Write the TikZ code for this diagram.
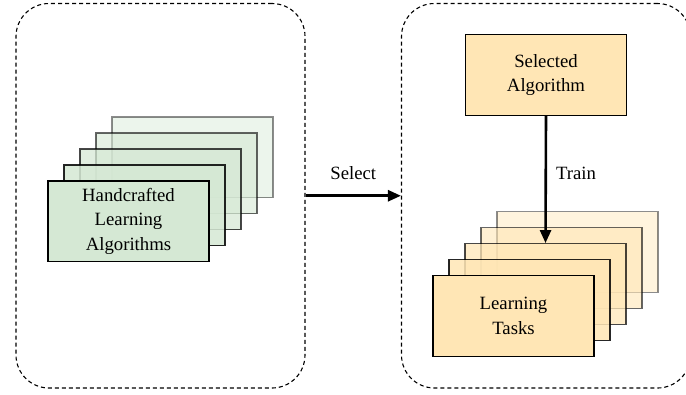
\documentclass[tikz,border=0pt]{standalone}
\usepackage{fontspec}
\setmainfont{Liberation Serif}
\usetikzlibrary{arrows.meta,calc}
\definecolor{cardgreen}{HTML}{D5E8D4}
\definecolor{cardorange}{HTML}{FFE6B5}
\tikzset{
  panel/.style={draw=black, line width=1.1bp, dash pattern=on 4bp off 3bp,
    rounded corners=33bp, minimum width=289bp, minimum height=384.5bp, inner sep=0pt},
  card/.style={draw=black, line width=1.4bp, minimum width=161bp, minimum height=80.5bp,
    inner sep=0pt, align=center, font=\fontsize{18.8}{24.5}\selectfont},
  flow/.style={line width=2.6bp, -{Triangle[length=13bp,width=11bp]}},
  lbl/.style={font=\fontsize{18.8}{24.5}\selectfont, inner sep=0pt}
}
\begin{document}
\begin{tikzpicture}[x=1bp,y=-1bp]
\useasboundingbox (0,0) rectangle (686,394);

% dashed panels
\node[panel] (lbox) at (160.5,195.75) {};
\node[panel] (rbox) at (546,195.75) {};

% stack of handcrafted algorithms (back to front)
\node[card, fill=cardgreen, fill opacity=0.45, draw opacity=0.45] (g4) at (192.5,157.25) {};
\node[card, fill=cardgreen, fill opacity=0.6, draw opacity=0.6] (g3) at (176.5,173.25) {};
\node[card, fill=cardgreen, fill opacity=0.72, draw opacity=0.72] (g2) at (160.5,189.25) {};
\node[card, fill=cardgreen, fill opacity=0.85, draw opacity=0.85] (g1) at (144.5,205.25) {};
\node[card, fill=cardgreen] (g0) at (128.5,221.25) {Handcrafted\\Learning\\Algorithms};

% stack of learning tasks (back to front)
\node[card, fill=cardorange, fill opacity=0.45, draw opacity=0.45] (t4) at (577.5,252) {};
\node[card, fill=cardorange, fill opacity=0.6, draw opacity=0.6] (t3) at (561.5,268) {};
\node[card, fill=cardorange, fill opacity=0.72, draw opacity=0.72] (t2) at (545.5,284) {};
\node[card, fill=cardorange, fill opacity=0.85, draw opacity=0.85] (t1) at (529.5,300) {};
\node[card, fill=cardorange] (t0) at (513.5,316) {Learning\\Tasks};

% selected algorithm
\node[card, fill=cardorange] (sel) at (546,75) {Selected\\Algorithm};

% connectors
\draw[flow] (lbox.east) -- node[lbl, above=15bp] {Select} (rbox.west);
\draw[flow] (sel.south) -- node[lbl, right=9bp, pos=0.45] {Train} (t2.north);
\end{tikzpicture}
\end{document}
